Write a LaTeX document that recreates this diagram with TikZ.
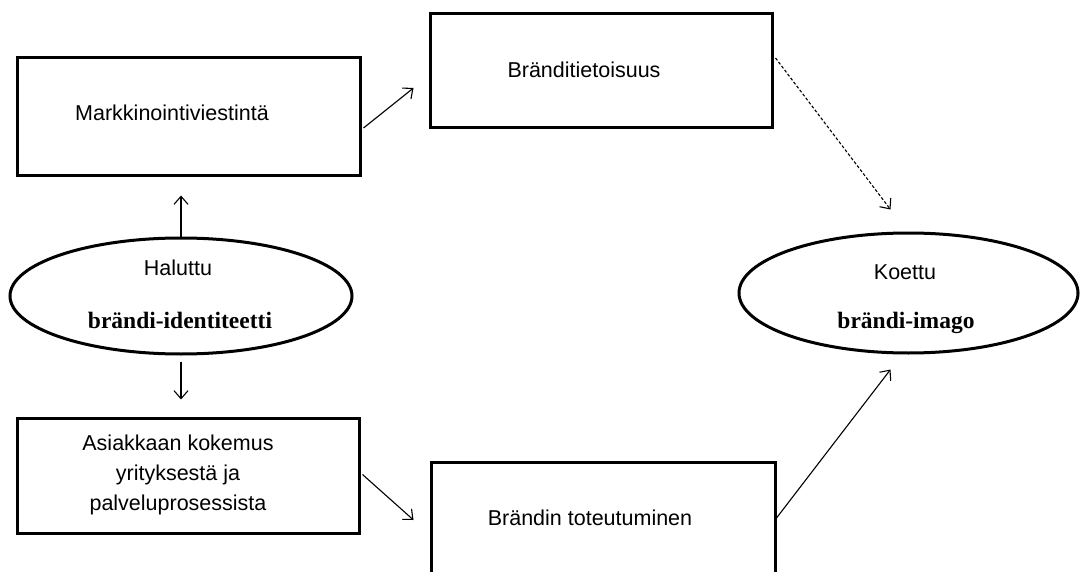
\documentclass[tikz,border=0pt]{standalone}
\usepackage{fontspec}
\setmainfont{Liberation Sans}
\newfontfamily\boldserif{Liberation Serif}
\usetikzlibrary{shapes.geometric,arrows.meta}
\begin{document}
\begin{tikzpicture}[x=1pt,y=-1pt,
  boxshape/.style={draw=black,line width=3pt,rectangle,inner sep=0pt},
  ellshape/.style={draw=black,line width=3pt,ellipse,inner sep=0pt},
  lbl/.style={font=\fontsize{21.5}{26}\selectfont,inner sep=0pt,anchor=center},
  blbl/.style={font=\boldserif\bfseries\fontsize{23.5}{27}\selectfont,inner sep=0pt,anchor=center},
  arr/.style={line width=1.1pt,-{Straight Barb[length=8pt,width=14pt,line width=1.1pt]}},
  darr/.style={arr,dash pattern=on 3pt off 2pt}]
\useasboundingbox (0,0) rectangle (1081,572);
\clip (0,0) rectangle (1081,572);
\fill[white] (0,0) rectangle (1081,572);
% boxes
\node[boxshape,minimum width=343pt,minimum height=118pt] (box1) at (188.5,117) {};
\node[boxshape,minimum width=342pt,minimum height=114pt] (box2) at (601,71) {};
\node[boxshape,minimum width=342pt,minimum height=115pt] (box3) at (188,475.5) {};
\node[boxshape,minimum width=344pt,minimum height=128pt] (box4) at (603,526) {};
% ellipses
\node[ellshape,minimum width=342pt,minimum height=116pt] (ell1) at (181,296) {};
\node[ellshape,minimum width=339pt,minimum height=120pt] (ell2) at (908.5,293) {};
% texts
\node[lbl] (t1) at (172,113) {Markkinointiviestintä};
\node[lbl] (t2) at (584,70) {Bränditietoisuus};
\node[lbl] (t3a) at (178,268) {Haluttu};
\node[blbl] (t3b) at (180,320) {brändi-identiteetti};
\node[lbl] (t4a) at (905,272) {Koettu};
\node[blbl] (t4b) at (906,323) {brändi-imago};
\node[lbl] (t5a) at (178,443) {Asiakkaan kokemus};
\node[lbl] (t5b) at (178,475) {yrityksestä ja};
\node[lbl] (t5c) at (178,505) {palveluprosessista};
\node[lbl] (t6) at (590,518) {Brändin toteutuminen};
% connectors
\draw[arr,shorten >=18pt] (ell1.north) -- (ell1.north |- box1.south);
\draw[arr,shorten <=6pt,shorten >=17pt] (ell1.south) -- (ell1.south |- box3.north);
\draw[arr] ([xshift=2pt,yshift=-11pt]box1.east) -- ([xshift=-15pt,yshift=-17pt]box2.west);
\draw[arr] ([xshift=2pt,yshift=1pt]box3.east) -- ([xshift=-16pt,yshift=6pt]box4.west);
\draw[darr] ([xshift=2pt,yshift=13pt]box2.east) -- ([xshift=-18pt,yshift=22pt]ell2.north);
\draw[arr] ([yshift=8pt]box4.east) -- ([xshift=-18pt,yshift=-15pt]ell2.south);
\end{tikzpicture}
\end{document}
